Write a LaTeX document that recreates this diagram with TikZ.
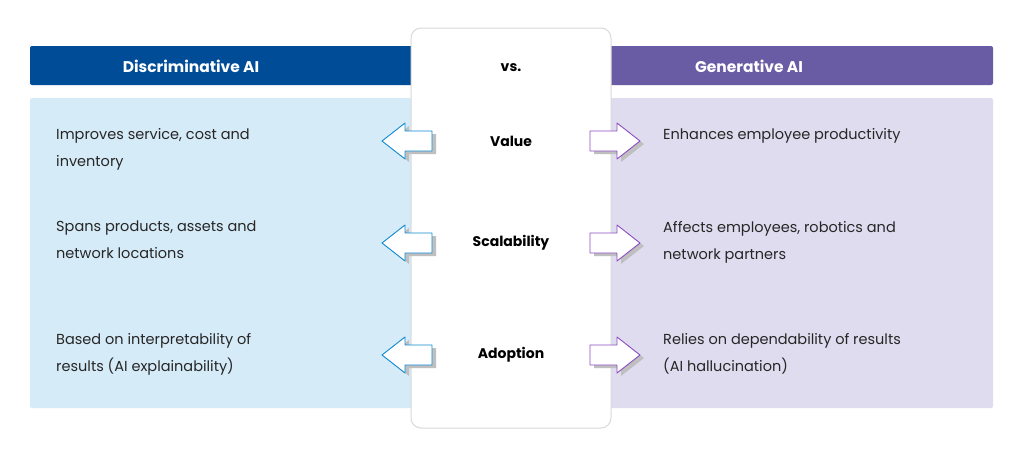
\documentclass[tikz,border=0pt]{standalone}
\usepackage{fontspec}
\setmainfont{Poppins}
\begin{document}
\begin{tikzpicture}[x=1pt,y=-1pt,
  txt/.style={anchor=north west,align=left,font=\fontsize{14.5}{27}\selectfont,text=black!85,inner sep=0pt},
  lab/.style={font=\fontsize{14}{16}\selectfont\bfseries,text=black},
  hdr/.style={font=\fontsize{15.5}{18}\selectfont\bfseries,text=white},
  larr/.style={draw=cyan!70!blue,fill=white,line width=0.9pt,line join=round},
  rarr/.style={draw=violet!70!blue!70,fill=white,line width=0.9pt,line join=round}]
\definecolor{hb}{HTML}{004C97}\definecolor{hp}{HTML}{6A5BA5}
\definecolor{bb}{HTML}{D6EBF8}\definecolor{bp}{HTML}{E0DCEF}
\useasboundingbox (0,0) rectangle (1024,456);
\fill[white] (0,0) rectangle (1024,456);
\fill[hb,rounded corners=2] (30,46) rectangle (420,85);
\fill[hp,rounded corners=2] (600,46) rectangle (993,85);
\fill[bb,rounded corners=2] (30,98) rectangle (420,408);
\fill[bp,rounded corners=2] (600,98) rectangle (993,408);
\node[hdr] (h1) at (191,66) {Discriminative AI};
\node[hdr] (h2) at (749,66) {Generative AI};
\draw[black!15,fill=white,rounded corners=10,line width=1pt] (411,28) rectangle (611,428);
\node[lab] (vs) at (511,68) {vs.};
\foreach \y/\l/\n in {141/Value/v,243/Scalability/s,355/Adoption/a}{
  \node[lab] (\n) at (511,\y) {\l};
  \fill[black!25] (386,\y+3) -- (409,\y-15) -- (409,\y-7) -- (436,\y-7) -- (436,\y+13) -- (409,\y+13) -- (409,\y+21) -- cycle;
  \draw[larr] (382,\y) -- (405,\y-18) -- (405,\y-10) -- (432,\y-10) -- (432,\y+10) -- (405,\y+10) -- (405,\y+18) -- cycle;
  \fill[black!25] (644,\y+3) -- (621,\y-15) -- (621,\y-7) -- (594,\y-7) -- (594,\y+13) -- (621,\y+13) -- (621,\y+21) -- cycle;
  \draw[rarr] (640,\y) -- (617,\y-18) -- (617,\y-10) -- (590,\y-10) -- (590,\y+10) -- (617,\y+10) -- (617,\y+18) -- cycle;
}
\node[txt] (l1) at (56,128) {Improves service, cost and\\inventory};
\node[txt] (l2) at (56,221) {Spans products, assets and\\network locations};
\node[txt] (l3) at (56,333) {Based on interpretability of\\results (AI explainability)};
\node[txt] (r1) at (663,128) {Enhances employee productivity};
\node[txt] (r2) at (663,221) {Affects employees, robotics and\\network partners};
\node[txt] (r3) at (663,333) {Relies on dependability of results\\(AI hallucination)};
\end{tikzpicture}
\end{document}
